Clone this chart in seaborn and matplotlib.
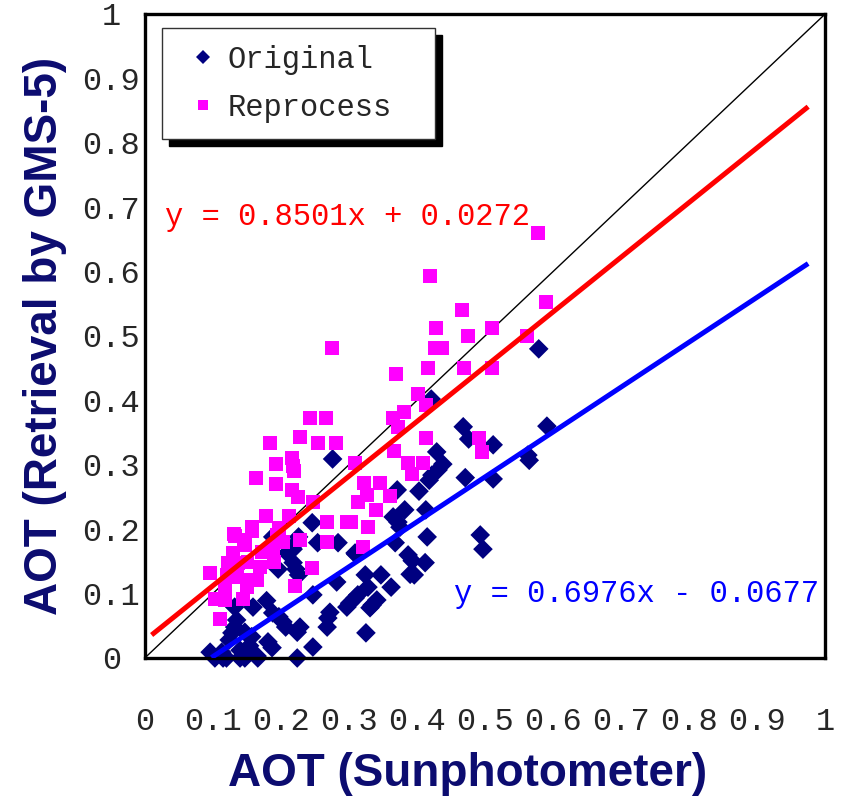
import numpy as np
import pandas as pd
import seaborn as sns
import matplotlib.pyplot as plt

# Reprocess (magenta squares)
rep_x = [0.578, 0.590, 0.419, 0.275, 0.466, 0.428, 0.510, 0.475, 0.562, 0.426,
         0.437, 0.416, 0.469, 0.510, 0.369, 0.401, 0.413, 0.381, 0.365, 0.372,
         0.243, 0.266, 0.413, 0.228, 0.254, 0.281, 0.184, 0.366, 0.491, 0.496,
         0.309, 0.387, 0.409, 0.393, 0.322, 0.346, 0.326, 0.313, 0.360, 0.340,
         0.216, 0.193, 0.218, 0.219, 0.163, 0.193, 0.216, 0.225, 0.247, 0.178,
         0.212, 0.157, 0.268, 0.297, 0.303, 0.328, 0.197, 0.194, 0.132, 0.146,
         0.203, 0.228, 0.268, 0.321, 0.188, 0.147, 0.131, 0.157, 0.122, 0.137,
         0.151, 0.169, 0.190, 0.246, 0.096, 0.121, 0.135, 0.151, 0.165, 0.221,
         0.118, 0.150, 0.103, 0.118, 0.144, 0.110, 0.129, 0.172]
rep_y = [0.660, 0.553, 0.593, 0.481, 0.540, 0.512, 0.512, 0.500, 0.500, 0.481,
         0.481, 0.450, 0.450, 0.450, 0.441, 0.410, 0.393, 0.382, 0.373, 0.359,
         0.373, 0.373, 0.342, 0.343, 0.334, 0.334, 0.334, 0.321, 0.342, 0.320,
         0.303, 0.303, 0.303, 0.286, 0.272, 0.272, 0.253, 0.242, 0.252, 0.230,
         0.311, 0.301, 0.298, 0.290, 0.280, 0.270, 0.261, 0.250, 0.242, 0.220,
         0.220, 0.203, 0.211, 0.211, 0.211, 0.203, 0.202, 0.191, 0.189, 0.183,
         0.180, 0.183, 0.180, 0.172, 0.171, 0.175, 0.193, 0.197, 0.148, 0.148,
         0.149, 0.141, 0.149, 0.140, 0.132, 0.129, 0.126, 0.121, 0.121, 0.112,
         0.110, 0.110, 0.092, 0.090, 0.092, 0.061, 0.163, 0.165]

# Original (navy diamonds)
org_x = [0.579, 0.591, 0.563, 0.565, 0.512, 0.512, 0.493, 0.497, 0.468, 0.476,
         0.421, 0.429, 0.438, 0.431, 0.422, 0.418, 0.471, 0.276, 0.371, 0.403,
         0.382, 0.413, 0.365, 0.372, 0.375, 0.246, 0.226, 0.224, 0.254, 0.284,
         0.310, 0.368, 0.415, 0.387, 0.393, 0.412, 0.390, 0.396, 0.324, 0.347,
         0.282, 0.328, 0.362, 0.247, 0.313, 0.309, 0.301, 0.297, 0.341, 0.334,
         0.331, 0.272, 0.269, 0.268, 0.325, 0.247, 0.228, 0.218, 0.209, 0.188,
         0.196, 0.218, 0.222, 0.226, 0.179, 0.159, 0.132, 0.188, 0.197, 0.203,
         0.207, 0.224, 0.135, 0.132, 0.128, 0.124, 0.147, 0.157, 0.154, 0.165,
         0.166, 0.140, 0.140, 0.096, 0.103, 0.113, 0.115, 0.181, 0.187, 0.224,
         0.120, 0.147, 0.309]
org_y = [0.480, 0.360, 0.315, 0.307, 0.331, 0.278, 0.191, 0.169, 0.359, 0.340,
         0.402, 0.320, 0.301, 0.292, 0.284, 0.276, 0.280, 0.309, 0.261, 0.259,
         0.230, 0.230, 0.219, 0.211, 0.203, 0.210, 0.188, 0.180, 0.179, 0.179,
         0.161, 0.179, 0.188, 0.160, 0.151, 0.148, 0.130, 0.129, 0.129, 0.129,
         0.118, 0.110, 0.110, 0.098, 0.098, 0.093, 0.085, 0.079, 0.090, 0.082,
         0.078, 0.071, 0.062, 0.048, 0.039, 0.017, 0.048, 0.169, 0.163, 0.188,
         0.138, 0.148, 0.138, 0.129, 0.089, 0.079, 0.079, 0.070, 0.064, 0.056,
         0.048, 0.040, 0.059, 0.048, 0.039, 0.028, 0.040, 0.033, 0.019, 0.003,
         0.000, 0.012, 0.000, 0.009, 0.000, 0.009, 0.000, 0.025, 0.016, 0.000,
         0.000, 0.000, 0.163]

# trend lines: slope, intercept, x range
rep_fit = (0.8501, 0.0272)
rep_fit_x = [0.01, 0.975]
org_fit = (0.6976, -0.0677)
org_fit_x = [0.098, 0.975]

ticks = [0, 0.1, 0.2, 0.3, 0.4, 0.5, 0.6, 0.7, 0.8, 0.9, 1]
tick_labels = ['0', '0.1', '0.2', '0.3', '0.4', '0.5', '0.6', '0.7', '0.8', '0.9', '1']

df = pd.DataFrame({
    'x': org_x + rep_x,
    'y': org_y + rep_y,
    'series': ['Original'] * len(org_x) + ['Reprocess'] * len(rep_x),
})

sns.set_style('white')
plt.rcParams['font.family'] = ['Liberation Mono', 'DejaVu Sans']

fig = plt.figure(figsize=(8.42, 7.99), dpi=100)
ax = fig.add_axes([0.172, 0.1765, 0.808, 0.806])

ax.plot([0, 1], [0, 1], color='black', lw=1, zorder=1)

sns.scatterplot(data=df, x='x', y='y', hue='series', style='series',
                palette={'Original': '#000080', 'Reprocess': '#ff00ff'},
                markers={'Original': 'D', 'Reprocess': 's'},
                s=100, linewidth=0, ax=ax, clip_on=False, zorder=2)

for (m, b), xr, col in [(org_fit, org_fit_x, '#0000ff'), (rep_fit, rep_fit_x, '#ff0000')]:
    xs = np.array(xr)
    ax.plot(xs, m * xs + b, color=col, lw=3.6, zorder=3, solid_capstyle='butt')

ax.text(0.03, 0.685, 'y = 0.8501x + 0.0272', color='#ff0000', fontsize=22,
        transform=ax.transData, va='center')
ax.text(0.455, 0.1, 'y = 0.6976x - 0.0677', color='#0000ff', fontsize=22,
        transform=ax.transData, va='center')

ax.set_xlim(0, 1)
ax.set_ylim(0, 1)
ax.set_xticks(ticks)
ax.set_yticks(ticks)
ax.set_xticklabels(tick_labels, fontsize=23)
ax.set_yticklabels(tick_labels, fontsize=23, ha='center')
ax.tick_params(axis='x', direction='in', length=11, width=1, pad=35)
ax.tick_params(axis='y', direction='in', length=10, width=1, pad=24)
for sp in ax.spines.values():
    sp.set_linewidth(2.4)
    sp.set_color('black')

lab_font = dict(family='Liberation Sans', fontsize=33, fontweight='bold', color='#0c0c70')
ax.set_xlabel('AOT (Sunphotometer)', labelpad=11, **lab_font)
ax.xaxis.label.set_x(0.474)
ax.set_ylabel('AOT (Retrieval by GMS-5)', labelpad=11, **lab_font)

leg = ax.legend(loc='upper left', bbox_to_anchor=(0.025, 0.0, 0.401, 0.978),
                mode='expand', borderaxespad=0,
                fontsize=22, frameon=True, fancybox=False, framealpha=1,
                edgecolor='#333333', markerscale=0.75, handletextpad=0.0,
                labelspacing=0.58, borderpad=0.55, handlelength=1.6,
                handleheight=0.7,
                shadow={'ox': 5, 'oy': -5, 'color': 'black', 'alpha': 1})
leg.get_frame().set_linewidth(1)

fig.savefig('out.png', dpi=100)
